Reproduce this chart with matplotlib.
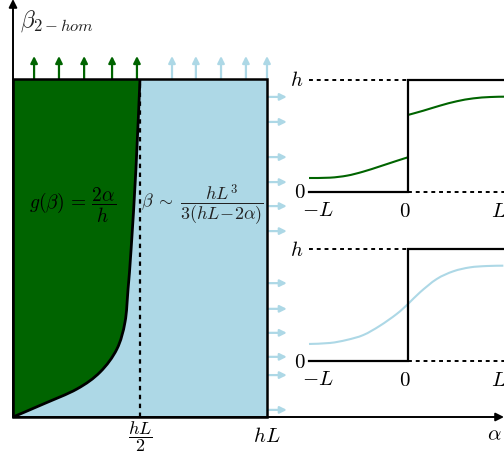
import matplotlib
matplotlib.use("Agg")
import matplotlib.pyplot as plt
from matplotlib.patches import Rectangle, PathPatch
from matplotlib.path import Path

plt.rcParams['mathtext.fontset'] = 'cm'
plt.rcParams['font.family'] = ['DejaVu Serif']

W, H = 504, 460
GREEN = '#006400'
BLUE = '#add8e6'

# ---- data (main diagram: alpha in units of hL, beta normalised to box top) ----
curve_alpha = [0.0, 0.118, 0.252, 0.343, 0.409, 0.441, 0.453, 0.465, 0.484, 0.500]
curve_beta = [0.0, 0.038, 0.083, 0.133, 0.201, 0.281, 0.379, 0.497, 0.734, 1.000]
green_arrow_x = [0.083, 0.181, 0.280, 0.390, 0.488]
blue_arrow_x = [0.626, 0.720, 0.819, 0.917, 1.000]
right_arrow_y = [0.947, 0.873, 0.769, 0.695, 0.624, 0.550,
                 0.396, 0.320, 0.249, 0.178, 0.124, 0.021]
x_ticks = [0.5, 1.0]
x_ticklabels = [r'$\dfrac{hL}{2}$', r'$hL$']

# ---- right panels ----
top_left_x = [-1.0, -0.788, -0.616, -0.455, -0.283, -0.111, 0.0]
top_left_y = [0.125, 0.128, 0.146, 0.181, 0.229, 0.279, 0.310]
top_right_x = [0.0, 0.155, 0.323, 0.492, 0.660, 0.828, 0.970]
top_right_y = [0.688, 0.726, 0.771, 0.810, 0.836, 0.848, 0.851]
bot_x = [-1.0, -0.788, -0.619, -0.451, -0.283, -0.114, 0.0, 0.121, 0.290,
         0.458, 0.626, 0.795, 0.963]
bot_y = [0.152, 0.161, 0.188, 0.232, 0.315, 0.420, 0.509, 0.613, 0.732,
         0.801, 0.836, 0.848, 0.851]
panel_ticklabels = [r'$-L$', r'$0$', r'$L$']


def px_box(x0, y0, x1, y1):
    return [x0 / W, 1 - y1 / H, (x1 - x0) / W, (y1 - y0) / H]


def smooth_verts(xs, ys):
    """Catmull-Rom through the read points, expressed as cubic Bezier path pieces."""
    pts = list(zip(xs, ys))
    n = len(pts)
    verts = [pts[0]]
    codes = [Path.MOVETO]
    for i in range(n - 1):
        p0 = pts[max(i - 1, 0)]
        p1 = pts[i]
        p2 = pts[i + 1]
        p3 = pts[min(i + 2, n - 1)]
        c1 = (p1[0] + (p2[0] - p0[0]) / 6, p1[1] + (p2[1] - p0[1]) / 6)
        c2 = (p2[0] - (p3[0] - p1[0]) / 6, p2[1] - (p3[1] - p1[1]) / 6)
        verts += [c1, c2, p2]
        codes += [Path.CURVE4] * 3
    return verts, codes


def smooth_line(a, xs, ys, **kw):
    v, c = smooth_verts(xs, ys)
    a.add_patch(PathPatch(Path(v, c), facecolor='none', **kw))


fig = plt.figure(figsize=(W / 100, H / 100), dpi=100)

# main axes spanning full figure; alpha=(px-13)/254, beta=(418-py)/338
ax = fig.add_axes([0, 0, 1, 1])
ax.set_xlim(-13 / 254, 491 / 254)
ax.set_ylim((418 - 460) / 338, 418 / 338)
ax.axis('off')

ax.add_patch(Rectangle((0, 0), 1, 1, facecolor=BLUE, edgecolor='none', zorder=1))
v, c = smooth_verts(curve_alpha, curve_beta)
v = v + [(0, 1), (0, 0)]
c = c + [Path.LINETO, Path.CLOSEPOLY]
ax.add_patch(PathPatch(Path(v, c), facecolor=GREEN, edgecolor='none', zorder=2))
smooth_line(ax, curve_alpha, curve_beta, edgecolor='black', lw=2.0, zorder=4)
ax.plot([0.5, 0.5], [0, 1], color='black', lw=1.6, ls=(0, (2, 2)), zorder=3)
ax.add_patch(Rectangle((0, 0), 1, 1, facecolor='none', edgecolor='black', lw=1.8, zorder=5))

# axes arrows
ax.annotate('', xy=(491 / 254, 0), xytext=(0, 0),
            arrowprops=dict(arrowstyle='-|>', color='black', lw=1.4,
                            mutation_scale=12, shrinkA=0, shrinkB=0), zorder=6)
ax.annotate('', xy=(0, 418 / 338), xytext=(0, 0),
            arrowprops=dict(arrowstyle='-|>', color='black', lw=1.4,
                            mutation_scale=12, shrinkA=0, shrinkB=0), zorder=6)

# flux arrows
for xa in green_arrow_x:
    ax.annotate('', xy=(xa, 1.068), xytext=(xa, 1.0),
                arrowprops=dict(arrowstyle='-|>', color=GREEN, lw=1.6,
                                mutation_scale=10, shrinkA=0, shrinkB=0))
for xa in blue_arrow_x:
    ax.annotate('', xy=(xa, 1.068), xytext=(xa, 1.0),
                arrowprops=dict(arrowstyle='-|>', color=BLUE, lw=1.6,
                                mutation_scale=10, shrinkA=0, shrinkB=0))
for ya in right_arrow_y:
    ax.annotate('', xy=(1.078, ya), xytext=(1.006, ya),
                arrowprops=dict(arrowstyle='-|>', color=BLUE, lw=1.6,
                                mutation_scale=10, shrinkA=0, shrinkB=0))

# labels
ax.text(0.028, 1.175, r'$\beta_{2-hom}$', fontsize=17, ha='left', va='center', color='#222222')
ax.text(1.894, -0.05, r'$\alpha$', fontsize=15, ha='center', va='center')
ax.text(x_ticks[0], -0.055, x_ticklabels[0], fontsize=13, ha='center', va='center')
ax.text(x_ticks[1], -0.055, x_ticklabels[1], fontsize=15, ha='center', va='center')
ax.text(0.233, 0.63, r'$g(\beta)\,=\,\dfrac{2\alpha}{h}$', fontsize=14,
        ha='center', va='center', zorder=7)
ax.text(0.747, 0.63, r'$\beta\;\sim\;\dfrac{hL^3}{3(hL\!-\!2\alpha)}$', fontsize=13,
        ha='center', va='center', zorder=7, color='#222222')


def panel(box_px, y0px, curves):
    x0, y0, x1, y1 = box_px
    a = fig.add_axes(px_box(x0, y0, x1, y1))
    a.patch.set_alpha(0)
    a.axis('off')
    a.set_xlim((x0 - 408) / 99, (x1 - 408) / 99)
    a.set_ylim((y0px - y1) / 112, (y0px - y0) / 112)
    right = (x1 - 408) / 99
    # step function
    a.plot([-1, 0, 0, right], [0, 0, 1, 1], color='black', lw=1.6, solid_joinstyle='miter')
    a.plot([-1, 0], [1, 1], color='black', lw=1.4, ls=(0, (2, 2)))
    a.plot([0, right], [0, 0], color='black', lw=1.4, ls=(0, (2, 2)))
    for cx, cy, col in curves:
        smooth_line(a, cx, cy, edgecolor=col, lw=1.5)
    a.text(-1.12, 1.0, r'$h$', fontsize=15, ha='center', va='center')
    a.text(-1.09, 0.0, r'$0$', fontsize=15, ha='center', va='center')
    a.text(-0.91, -0.155, panel_ticklabels[0], fontsize=15, ha='center', va='center')
    a.text(-0.03, -0.165, panel_ticklabels[1], fontsize=15, ha='center', va='center')
    a.text(0.92, -0.165, panel_ticklabels[2], fontsize=15, ha='center', va='center')
    return a


panel((290, 60, 504, 225), 193,
      [(top_left_x, top_left_y, GREEN), (top_right_x, top_right_y, GREEN)])
panel((290, 230, 504, 395), 362, [(bot_x, bot_y, BLUE)])

fig.savefig('out.png', dpi=100)
